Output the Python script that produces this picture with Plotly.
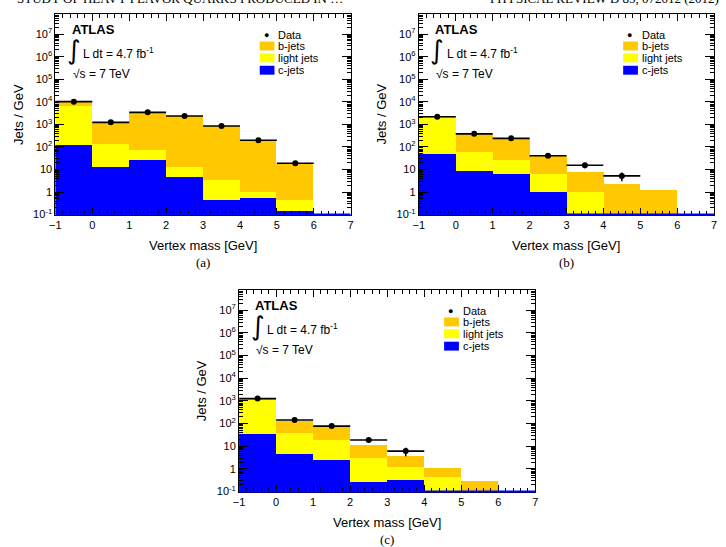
import plotly.graph_objects as go

# ---------------- data ----------------
bin_centers = [-0.5, 0.5, 1.5, 2.5, 3.5, 4.5, 5.5]

# panel (a)
a_c = [130, 13.7, 28, 4.7, 0.44, 0.53, 0.15]
a_light = [6370, 130, 49, 8.6, 3.06, 0.47, 0.29]
a_b = [4200, 1100, 3380, 2390, 856, 199, 18.1]
a_data_x = [-0.5, 0.5, 1.5, 2.5, 3.5, 4.5, 5.5]
a_data = [10200, 1230, 3420, 2360, 850, 198, 18.8]
a_data_err = [100, 35, 60, 50, 30, 14, 4]

# panel (b)
b_c = [51, 8.5, 6.5, 1.0, 0, 0, 0]
b_light = [1899, 49.5, 21.5, 5.5, 1.0, 0, 0]
b_b = [350, 332, 217, 36.5, 6.9, 2.4, 1.26]
b_data_x = [-0.5, 0.5, 1.5, 2.5, 3.5, 4.5]
b_data = [2180, 380, 240, 41, 15.4, 5.2]
b_data_err = [47, 19, 15, 6.4, 3.9, 2.2]

# panel (c)
c_c = [35, 4.5, 2.5, 0.27, 0.32, 0, 0]
c_light = [1105, 35.5, 16.5, 2.83, 0.88, 0.43, 0]
c_b = [160, 94, 58, 8.3, 2.4, 0.67, 0.30]
c_data_x = [-0.5, 0.5, 1.5, 2.5, 3.5]
c_data = [1260, 144, 77, 18.7, 6.1]
c_data_err = [35, 12, 8.8, 4.3, 2.5]

x_tick_vals = [-1, 0, 1, 2, 3, 4, 5, 6, 7]
y_tick_vals = [0.1, 1, 10, 100, 1e3, 1e4, 1e5, 1e6, 1e7]
y_tick_text = ["10<sup>-1</sup>", "1", "10", "10<sup>2</sup>", "10<sup>3</sup>",
               "10<sup>4</sup>", "10<sup>5</sup>", "10<sup>6</sup>", "10<sup>7</sup>"]
legend_labels = ["Data", "b-jets", "light jets", "c-jets"]
captions = ["(a)", "(b)", "(c)"]

# ---------------- style ----------------
ORANGE = "#ffc800"
YELLOW = "#ffff00"
BLUE = "#0000ff"
FONT = "Liberation Sans"
SERIF = "Liberation Serif"
W, H = 726, 547

# panel frames in pixels: (x0, x1, ytop, ybottom)
frames = [(50, 349, 14, 217), (418, 717, 14, 217), (236, 536, 293, 497)]

panels = [
    (a_c, a_light, a_b, a_data_x, a_data, a_data_err),
    (b_c, b_light, b_b, b_data_x, b_data, b_data_err),
    (c_c, c_light, c_b, c_data_x, c_data, c_data_err),
]

minor_y = []
for e in range(-1, 8):
    for m in range(2, 10):
        minor_y.append(m * 10 ** e)

fig = go.Figure()
layout = dict(width=W, height=H, margin=dict(l=0, r=0, t=0, b=0),
              paper_bgcolor="white", plot_bgcolor="white",
              barmode="stack", bargap=0, showlegend=False,
              font=dict(family=FONT, color="black"))
annotations = []
shapes = []

for i, (pc, pl, pb, dx, dy, de) in enumerate(panels):
    n = "" if i == 0 else str(i + 1)
    xa, ya = "x" + n, "y" + n
    x0, x1, yt, yb = frames[i]
    xdom = [x0 / W, x1 / W]
    ydom = [1 - yb / H, 1 - yt / H]
    for vals, col in ((pc, BLUE), (pl, YELLOW), (pb, ORANGE)):
        fig.add_trace(go.Bar(x=bin_centers, y=vals, width=1.0, marker=dict(color=col, line=dict(width=0)),
                             xaxis=xa, yaxis=ya, hoverinfo="skip"))
    fig.add_trace(go.Scatter(x=dx, y=dy, mode="markers", xaxis=xa, yaxis=ya,
                             marker=dict(color="black", size=6),
                             error_x=dict(type="constant", value=0.5, color="black", thickness=1.6, width=0),
                             error_y=dict(type="data", array=de, color="black", thickness=1.6, width=0)))
    axc = dict(showline=True, linecolor="black", linewidth=1, mirror="allticks",
               ticks="inside", ticklen=7, tickcolor="black", showgrid=False, zeroline=False,
               tickfont=dict(family=FONT, size=11, color="black"))
    layout["xaxis" + n] = dict(axc, domain=xdom, range=[-1, 7], anchor=ya,
                               tickmode="array", tickvals=x_tick_vals,
                               minor=dict(ticks="inside", ticklen=4, dtick=0.2, tick0=0, tickcolor="black", showgrid=False))
    layout["yaxis" + n] = dict(axc, domain=ydom, type="log", range=[-1, 7.9], anchor=xa,
                               tickmode="array", tickvals=y_tick_vals, ticktext=y_tick_text,
                               ticklen=9,
                               minor=dict(ticks="inside", ticklen=4, tickmode="array", tickvals=minor_y,
                                          tickcolor="black", showgrid=False))
    xd, yd = xa + " domain", ya + " domain"
    pw, ph = x1 - x0, yb - yt
    # blue line along the bottom (empty c-jet bins)
    shapes.append(dict(type="line", xref=xa, yref=yd, x0=-1, x1=7, y0=0, y1=0,
                       line=dict(color=BLUE, width=2)))
    # legend
    ly = [21, 32.5, 44.5, 57]
    annotations.append(dict(xref=xd, yref=yd, x=0.715, y=1 - ly[0] / ph, text="●", showarrow=False,
                            font=dict(size=9, color="black"), xanchor="center", yanchor="middle"))
    for k, col in enumerate((ORANGE, YELLOW, BLUE)):
        yc = ly[k + 1]
        shapes.append(dict(type="rect", xref=xd, yref=yd, x0=0.692, x1=0.742,
                           y0=1 - (yc + 4.5) / ph, y1=1 - (yc - 4.5) / ph,
                           fillcolor=col, line=dict(width=0)))
    for k, lab in enumerate(legend_labels):
        annotations.append(dict(xref=xd, yref=yd, x=0.748, y=1 - ly[k] / ph, text=lab, showarrow=False,
                                font=dict(size=11, family=FONT), xanchor="left", yanchor="middle"))
    # ATLAS label
    annotations.append(dict(xref=xd, yref=yd, x=0.048, y=1 - 16 / ph, text="<b>ATLAS</b>", showarrow=False,
                            font=dict(size=13, family=FONT), xanchor="left", yanchor="middle"))
    annotations.append(dict(xref=xd, yref=yd, x=0.032, y=1 - 37 / ph, text="∫", showarrow=False,
                            font=dict(size=26, family="DejaVu Sans"), xanchor="left", yanchor="middle"))
    annotations.append(dict(xref=xd, yref=yd, x=0.088, y=1 - 40 / ph, text="L dt = 4.7 fb<sup>-1</sup>",
                            showarrow=False, font=dict(size=12, family=FONT), xanchor="left", yanchor="middle"))
    annotations.append(dict(xref=xd, yref=yd, x=0.052, y=1 - 61 / ph, text="√s = 7 TeV",
                            showarrow=False, font=dict(size=12, family=FONT), xanchor="left", yanchor="middle"))
    # axis titles
    annotations.append(dict(xref=xd, yref="paper", x=0.5, y=1 - (yb + 31) / H, text="Vertex mass [GeV]",
                            showarrow=False, font=dict(size=13, family=FONT), xanchor="center", yanchor="middle"))
    annotations.append(dict(xref="paper", yref=yd, x=(x0 - 38) / W, y=0.5, text="Jets / GeV", textangle=-90,
                            showarrow=False, font=dict(size=13, family=FONT), xanchor="center", yanchor="middle"))
    annotations.append(dict(xref=xd, yref="paper", x=0.5, y=1 - (yb + 48) / H, text=captions[i],
                            showarrow=False, font=dict(size=13, family=SERIF), xanchor="center", yanchor="middle"))

# page header remnants
annotations.append(dict(xref="paper", yref="paper", x=343 / W, y=1 - 8 / H,
                        text="STUDY OF HEAVY-FLAVOR QUARKS PRODUCED IN …", showarrow=False,
                        font=dict(size=13, family=SERIF), xanchor="right", yanchor="bottom"))
annotations.append(dict(xref="paper", yref="paper", x=488 / W, y=1 - 8 / H,
                        text="PHYSICAL REVIEW D 85, 072012 (2012)", showarrow=False,
                        font=dict(size=13, family=SERIF), xanchor="left", yanchor="bottom"))

layout["annotations"] = annotations
layout["shapes"] = shapes
fig.update_layout(**layout)
fig.write_html("out.html")
